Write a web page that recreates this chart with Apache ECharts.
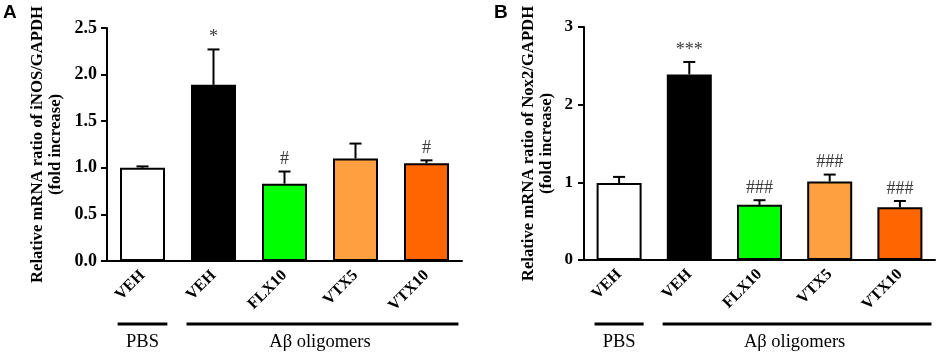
<!DOCTYPE html>
<html>
<head>
<meta charset="utf-8">
<script src="https://cdn.jsdelivr.net/npm/echarts@6/dist/echarts.min.js"></script>
<style>
  html, body { margin: 0; padding: 0; background: #fff; }
  #main { width: 941px; height: 356px; }
</style>
</head>
<body>
<div id="main"></div>
<script>
// data
var categories = ['VEH', 'VEH', 'FLX10', 'VTX5', 'VTX10'];
var barColors = ['#ffffff', '#000000', '#00ff00', '#ffa040', '#ff6600'];

var inosMean = [1.00, 1.89, 0.83, 1.10, 1.05];
var inosErr = [0.015, 0.38, 0.13, 0.16, 0.03];
var inosSig = ['', '*', '#', '', '#'];

var nox2Mean = [0.99, 2.39, 0.71, 1.01, 0.68];
var nox2Err = [0.08, 0.16, 0.06, 0.09, 0.08];
var nox2Sig = ['', '***', '###', '###', '###'];

var yTitleA = 'Relative mRNA ratio of iNOS/GAPDH\n(fold increase)';
var yTitleB = 'Relative mRNA ratio of Nox2/GAPDH\n(fold increase)';

var serif = '"Liberation Serif", "Times New Roman", serif';

var myChart = echarts.init(document.getElementById('main'));

function barData(mean) {
  return mean.map(function (v, i) {
    return { value: v, itemStyle: { color: barColors[i] } };
  });
}

function errData(mean, err) {
  return mean.map(function (v, i) {
    return [i, v, v + err[i]];
  });
}

function errRender(sig) {
  return function (params, api) {
    var base = api.coord([api.value(0), api.value(1)]);
    var top = api.coord([api.value(0), api.value(2)]);
    var hw = 6;
    return {
      type: 'group',
      children: [
        { type: 'line', shape: { x1: base[0], y1: base[1], x2: top[0], y2: top[1] },
          style: { stroke: '#000', lineWidth: 2 } },
        { type: 'line', shape: { x1: top[0] - hw, y1: top[1], x2: top[0] + hw, y2: top[1] },
          style: { stroke: '#000', lineWidth: 2 } },
        { type: 'text', x: top[0], y: top[1] - 3,
          style: { text: sig[params.dataIndex], align: 'center', verticalAlign: 'bottom',
                   font: '18px ' + serif, fill: '#3a3a3a' } }
      ]
    };
  };
}

function xAxisOpt(gi) {
  return {
    type: 'category',
    gridIndex: gi,
    data: categories,
    axisLine: { lineStyle: { color: '#000', width: 2 } },
    axisTick: { alignWithLabel: true, length: 7, lineStyle: { color: '#000', width: 2 } },
    axisLabel: { rotate: 45, margin: 12, color: '#000', fontFamily: serif,
                 fontWeight: 'bold', fontSize: 16, interval: 0 },
    splitLine: { show: false }
  };
}

function yAxisOpt(gi, max, interval, title, gap, digits, margin, size) {
  return {
    type: 'value',
    gridIndex: gi,
    min: 0, max: max, interval: interval,
    name: title,
    nameLocation: 'middle',
    nameRotate: 90,
    nameGap: gap,
    nameTextStyle: { color: '#000', fontFamily: serif, fontWeight: 'bold', fontSize: 16.7, lineHeight: 18 },
    axisLine: { show: true, lineStyle: { color: '#000', width: 2 } },
    axisTick: { show: true, length: 6, lineStyle: { color: '#000', width: 2 } },
    axisLabel: { color: '#000', fontFamily: serif, fontWeight: 'bold', fontSize: size, margin: margin,
                 formatter: function (v) { return v.toFixed(digits); } },
    splitLine: { show: false }
  };
}

var option = {
  backgroundColor: '#fff',
  animation: false,
  grid: [
    { left: 107, right: 479, top: 28, bottom: 95 },
    { left: 584, right: 6, top: 27, bottom: 96 }
  ],
  xAxis: [xAxisOpt(0), xAxisOpt(1)],
  yAxis: [
    yAxisOpt(0, 2.5, 0.5, yTitleA, 42, 1, 10, 18),
    yAxisOpt(1, 3, 1, yTitleB, 28, 0, 11, 17)
  ],
  series: [
    { type: 'bar', xAxisIndex: 0, yAxisIndex: 0, barWidth: 45,
      itemStyle: { borderColor: '#000', borderWidth: 2 }, data: barData(inosMean) },
    { type: 'custom', xAxisIndex: 0, yAxisIndex: 0, z: 5,
      renderItem: errRender(inosSig), data: errData(inosMean, inosErr) },
    { type: 'bar', xAxisIndex: 1, yAxisIndex: 1, barWidth: 45,
      itemStyle: { borderColor: '#000', borderWidth: 2 }, data: barData(nox2Mean) },
    { type: 'custom', xAxisIndex: 1, yAxisIndex: 1, z: 5,
      renderItem: errRender(nox2Sig), data: errData(nox2Mean, nox2Err) }
  ]
};

myChart.setOption(option, true);

// group brackets below the axes, placed from the category positions
function groupGraphics(gi) {
  var x = function (i) { return myChart.convertToPixel({ xAxisIndex: gi }, i); };
  var band = x(1) - x(0);
  var lineY = 324, textY = 342;
  var p0 = x(0) - 0.35 * band, p1 = x(0) + 0.35 * band;
  var a0 = x(1) - 0.38 * band, a1 = x(4) + 0.45 * band;
  return [
    { type: 'line', shape: { x1: p0, y1: lineY, x2: p1, y2: lineY }, style: { stroke: '#000', lineWidth: 3 } },
    { type: 'line', shape: { x1: a0, y1: lineY, x2: a1, y2: lineY }, style: { stroke: '#000', lineWidth: 3 } },
    { type: 'text', x: x(0), y: textY, style: { text: 'PBS', align: 'center', verticalAlign: 'middle',
        font: '18.5px ' + serif, fill: '#000' } },
    { type: 'text', x: (x(1) + x(4)) / 2, y: textY, style: { text: 'Aβ oligomers', align: 'center', verticalAlign: 'middle',
        font: '18.5px ' + serif, fill: '#000' } }
  ];
}

var graphics = groupGraphics(0).concat(groupGraphics(1));
graphics.push({ type: 'text', left: 3, top: 3, style: { text: 'A', font: 'bold 19px "Liberation Sans", Arial, sans-serif', fill: '#000' } });
graphics.push({ type: 'text', left: 494, top: 3, style: { text: 'B', font: 'bold 19px "Liberation Sans", Arial, sans-serif', fill: '#000' } });

myChart.setOption({ graphic: graphics });

window.addEventListener('resize', function () {
  myChart.resize();
});
</script>
</body>
</html>
